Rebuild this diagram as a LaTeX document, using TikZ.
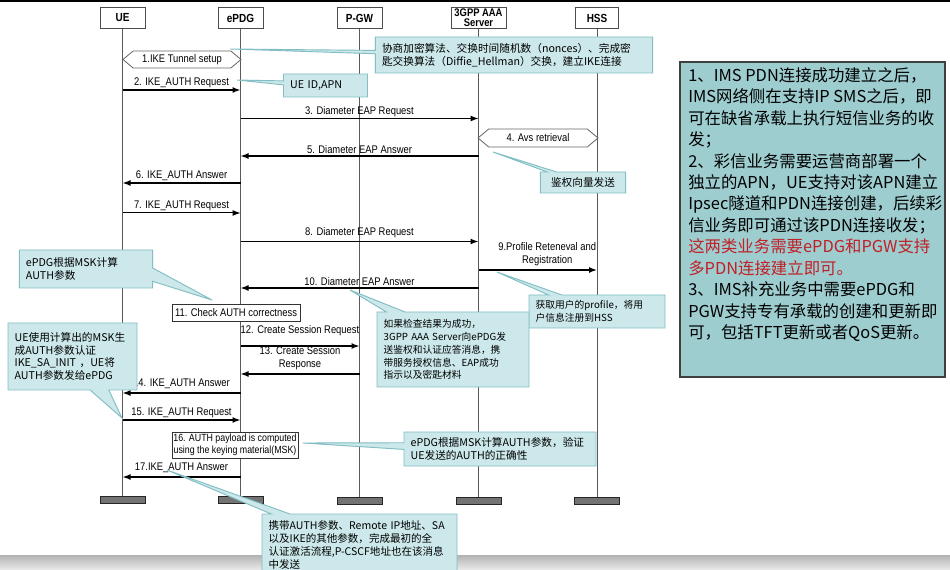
\documentclass[tikz,border=0pt]{standalone}
\usepackage{fontspec}
\setmainfont{Liberation Sans}
\newfontfamily\cjk{Noto Sans CJK SC}
\newfontfamily\nar[FakeStretch=0.85]{Liberation Sans}
\usetikzlibrary{arrows.meta,shapes.callouts,shapes.symbols}
\definecolor{calfill}{RGB}{204,232,234}
\definecolor{caldraw}{RGB}{130,190,196}
\definecolor{bigfill}{RGB}{158,205,208}
\definecolor{redtxt}{RGB}{192,32,38}
\newcommand\lblf{\nar\fontsize{8.3}{9.6}\selectfont}
\newcommand\smlf{\nar\fontsize{7.8}{9.4}\selectfont}
\newcommand\hdrf{\nar\bfseries\fontsize{8.8}{8.8}\selectfont}
\newcommand\calf{\cjk\fontsize{8}{10}\selectfont}
\newcommand\calsf{\cjk\fontsize{7.3}{9.6}\selectfont}
\newcommand\bigf{\cjk\fontsize{12.3}{16.1}\selectfont}
\begin{document}
\begin{tikzpicture}[x=0.75pt,y=-0.75pt,
  hdr/.style={draw=black!70,fill=white,line width=0.7pt,font=\hdrf,minimum width=33.75pt,minimum height=15.75pt,inner sep=1pt,align=center},
  bar/.style={draw=black!85,fill=black!55,line width=0.6pt,minimum width=33.75pt,minimum height=5.25pt,inner sep=0pt},
  life/.style={draw=black!65,line width=0.6pt},
  msg/.style={line width=1.1pt,-{Latex[length=6pt,width=4.5pt]}},
  thinmsg/.style={line width=0.75pt,-{Latex[length=6pt,width=4.5pt]}},
  lbl/.style={font=\lblf,inner sep=1pt,align=center},
  hexa/.style={signal,signal to=east and west,signal pointer angle=80,draw=black!60,fill=white,line width=0.6pt,font=\lblf,inner sep=1pt},
  plainbox/.style={draw=black!80,fill=white,line width=0.6pt,font=\lblf,inner sep=1pt,align=center},
  callout/.style={rectangle callout,draw=caldraw,fill=calfill,line width=0.7pt,font=\calf,align=left,inner xsep=5pt,inner ysep=2pt},
]
\clip (0,0) rectangle (950,570);
\fill[white] (0,0) rectangle (950,570);
\draw[line width=1.3pt] (0,0.9) -- (950,0.9);
\shade[top color=black!30,bottom color=black!8] (0,555) rectangle (950,570);

% headers
\node[hdr] (ue) at (122.5,18) {UE};
\node[hdr] (epdg) at (240.5,18) {ePDG};
\node[hdr] (pgw) at (359.5,18) {P-GW};
\node[hdr,minimum width=41.25pt,font=\nar\bfseries\fontsize{8.3}{7.6}\selectfont] (aaa) at (478.5,17.5) {3GPP AAA\\Server};
\node[hdr,minimum width=32.25pt] (hss) at (597,18) {HSS};

% bars
\node[bar] (uebar) at (122.5,499.5) {};
\node[bar] (epdgbar) at (240.5,499.5) {};
\node[bar] (pgwbar) at (359.5,500.5) {};
\node[bar] (aaabar) at (478.5,500.5) {};
\node[bar] (hssbar) at (597,500.5) {};

% lifelines
\draw[life] (ue) -- (uebar);
\draw[life] (epdg) -- (epdgbar);
\draw[life] (pgw) -- (pgwbar);
\draw[life] (aaa) -- (aaabar);
\draw[life] (hss) -- (hssbar);

% messages
\node[hexa,minimum width=88.5pt,minimum height=12.75pt] (t1) at (182,59.5) {1.IKE Tunnel setup};
\draw[msg] (ue |- 0,90) -- (epdg |- 0,90) node[lbl,midway,above] {2. IKE\_AUTH Request};
\draw[thinmsg] (epdg |- 0,118.5) -- (aaa |- 0,118.5) node[lbl,midway,above] {3. Diameter EAP Request};
\node[hexa,minimum width=90pt,minimum height=13.5pt] (t4) at (538,138) {4. Avs retrieval};
\draw[msg] (aaa |- 0,156) -- (epdg |- 0,156) node[lbl,midway,above] {5. Diameter EAP Answer};
\draw[msg] (epdg |- 0,183) -- (ue |- 0,183) node[lbl,midway,above] {6. IKE\_AUTH Answer};
\draw[thinmsg] (ue |- 0,213) -- (epdg |- 0,213) node[lbl,midway,above] {7. IKE\_AUTH Request};
\draw[msg] (epdg |- 0,241.5) -- (aaa |- 0,241.5) node[lbl,midway,above=1.5pt] {8. Diameter EAP Request};
\draw[msg] (aaa |- 0,270) -- (hss |- 0,270) node[lbl,pos=0.58,above=1.5pt] {9.Profile Reteneval and\\Registration};
\draw[msg] (aaa |- 0,288) -- (epdg |- 0,288) node[lbl,midway,above] {10. Diameter EAP Answer};
\node[plainbox,minimum width=96pt,minimum height=12.75pt] (b11) at (236,312.5) {11. Check AUTH correctness};
\draw[msg] (epdg |- 0,346) -- (pgw |- 0,346) node[lbl,midway,above=6pt] {12. Create Session Request};
\draw[msg] (pgw |- 0,374) -- (epdg |- 0,374) node[lbl,midway,above=1.5pt] {13. Create Session\\Response};
\draw[msg] (epdg |- 0,393) -- (ue |- 0,393) node[lbl,midway,above=1.5pt] {14. IKE\_AUTH Answer};
\draw[msg] (ue |- 0,420) -- (epdg |- 0,420) node[lbl,midway,above] {15. IKE\_AUTH Request};
\node[plainbox,font=\smlf,minimum width=93pt,minimum height=19.5pt] (b16) at (235,445) {16. AUTH payload is computed\\using the keying material(MSK)};
\draw[msg] (epdg |- 0,477) -- (ue |- 0,477) node[lbl,midway,above=1.5pt] {17.IKE\_AUTH Answer};

% callouts
\node[callout,text width=198pt,minimum height=27pt,callout absolute pointer={(230,49)},callout pointer width=2.5pt] (c1) at (514,55)
 {协商加密算法、交换时间随机数（nonces）、完成密\\匙交换算法（Diffie\_Hellman）交换，建立IKE连接};
\node[callout,text width=53pt,minimum height=17.25pt,callout absolute pointer={(237,80)},callout pointer width=3pt] (c2) at (325.5,85.5) {UE ID,APN};
\node[callout,text width=54pt,align=center,minimum height=15.75pt,callout absolute pointer={(493,152)},callout pointer width=7pt] (c3) at (583,182.5) {鉴权向量发送};
\node[callout,text width=90pt,minimum height=28.5pt,callout absolute pointer={(212,300)},callout pointer width=10pt] (c4) at (86,269) {ePDG根据MSK计算\\AUTH参数};
\node[callout,font=\calsf,text width=92pt,minimum height=24.75pt,callout absolute pointer={(497,272)},callout pointer width=10pt] (c5) at (597,311.5) {获取用户的profile，将用\\户信息注册到HSS};
\node[callout,font=\calsf,text width=104pt,minimum height=56.25pt,callout absolute pointer={(350,290)},callout pointer width=14pt] (c6) at (453,349.5)
 {如果检查结果为成功，\\3GPP AAA Server向ePDG发\\送鉴权和认证应答消息，携\\带服务授权信息、EAP成功\\指示以及密匙材料};
\node[callout,text width=86.75pt,minimum height=50.25pt,callout absolute pointer={(122,418)},callout pointer width=14pt,font=\cjk\fontsize{8}{9.6}\selectfont] (c7) at (72.5,356.5)
 {UE使用计算出的MSK生\\成AUTH参数认证\\IKE\_SA\_INIT ，UE将\\AUTH参数发给ePDG};
\node[callout,text width=134pt,minimum height=25.5pt,callout absolute pointer={(303,443)},callout pointer width=5pt] (c8) at (500,449)
 {ePDG根据MSK计算AUTH参数，验证\\UE发送的AUTH的正确性};
\node[callout,text width=136.25pt,minimum height=46.5pt,callout absolute pointer={(167,470)},callout pointer width=14pt,font=\cjk\fontsize{7.9}{9.6}\selectfont] (c9) at (359.5,545)
 {携带AUTH参数、Remote IP地址、SA\\以及IKE的其他参数，完成最初的全\\认证激活流程,P-CSCF地址也在该消息\\中发送};

% right note
\node[draw=black!75,fill=bigfill,line width=0.8pt,minimum width=198.75pt,minimum height=236.25pt,inner sep=0pt] (note) at (812.5,219.5) {};
\node[anchor=north west,align=left,font=\bigf,inner sep=0pt] (notetext) at (688,67)
 {1、IMS PDN连接成功建立之后，\\
  IMS网络侧在支持IP SMS之后，即\\
  可在缺省承载上执行短信业务的收\\
  发；\\
  2、彩信业务需要运营商部署一个\\
  独立的APN，UE支持对该APN建立\\
  Ipsec隧道和PDN连接创建，后续彩\\
  信业务即可通过该PDN连接收发；\\
  {\color{redtxt}这两类业务需要ePDG和PGW支持}\\
  {\color{redtxt}多PDN连接建立即可。}\\
  3、IMS补充业务中需要ePDG和\\
  PGW支持专有承载的创建和更新即\\
  可，包括TFT更新或者QoS更新。};
\end{tikzpicture}
\end{document}
